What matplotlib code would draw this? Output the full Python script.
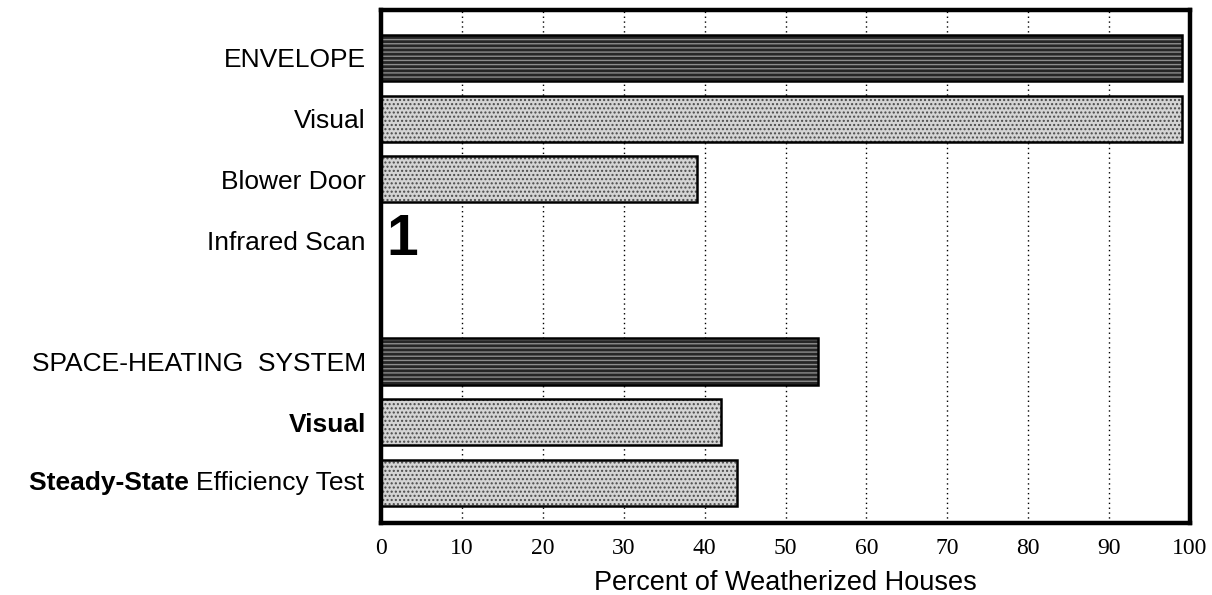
import matplotlib
matplotlib.use("Agg")
import matplotlib.pyplot as plt
import numpy as np

categories = ["ENVELOPE", "Visual", "Blower Door", "Infrared Scan", "",
              "SPACE-HEATING  SYSTEM", "Visual", "Steady-State Efficiency Test"]
values = [99, 99, 39, 0, 0, 54, 42, 44]
is_group = [True, False, False, False, False, True, False, False]
xticks = [0, 10, 20, 30, 40, 50, 60, 70, 80, 90, 100]
infrared_note = "1"

plt.rcParams['font.family'] = ['Liberation Sans', 'DejaVu Sans']
plt.rcParams['hatch.linewidth'] = 1.0

fig = plt.figure(figsize=(12.12, 5.95), dpi=100)
ax = fig.add_axes([381/1212, 1-523/595, (1190-381)/1212, (523-10)/595])

y = np.arange(len(categories))
for yi, v, g in zip(y, values, is_group):
    if v <= 0:
        continue
    if g:
        ax.barh(yi, v, height=0.76, color='#262626', edgecolor='#8c8c8c',
                hatch='----', linewidth=0, zorder=2)
    else:
        ax.barh(yi, v, height=0.76, color='#d4d4d4', edgecolor='#4a4a4a',
                hatch='....', linewidth=0, zorder=2)
    ax.barh(yi, v, height=0.76, facecolor='none', edgecolor='black',
            linewidth=1.8, zorder=3)

ax.set_xlim(0, 100)
ax.set_ylim(7.66, -0.79)
ax.set_xticks(xticks)
ax.set_xticklabels([str(t) for t in xticks], family='Liberation Serif', fontsize=17)
ax.tick_params(axis='x', length=0, pad=11)
ax.tick_params(axis='y', length=0, pad=11)
ax.xaxis.grid(True, linestyle=(0, (1, 2.5)), color='black', linewidth=1.0, zorder=1)
ax.set_axisbelow(True)

ax.set_yticks(y)
labels = list(categories)
labels[7] = ""
ax.set_yticklabels(labels, fontsize=19)
ticklabs = ax.get_yticklabels()
ticklabs[6].set_fontweight('bold')

# Partially bold last label
t1 = ax.text(-0.0205, 7, "Efficiency Test", transform=ax.get_yaxis_transform(),
             ha='right', va='center', fontsize=19)
ax.annotate("Steady-State ", xy=(0, 0.5), xycoords=t1, ha='right', va='center',
            fontsize=19, fontweight='bold')

ax.text(2.6, 3, infrared_note, ha='center', va='center', fontsize=41,
        fontweight='bold', zorder=4)

for s in ax.spines.values():
    s.set_linewidth(3.2)
    s.set_color('black')

ax.set_xlabel("Percent of Weatherized Houses", fontsize=19.5, labelpad=8)

fig.savefig("out.png", dpi=100)
